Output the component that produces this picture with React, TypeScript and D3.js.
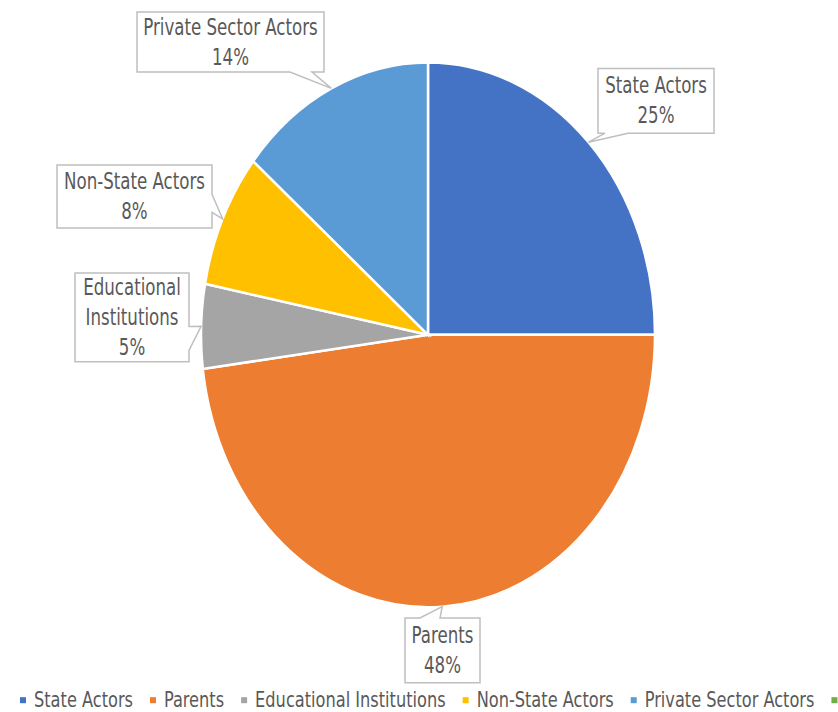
import React, { useRef, useEffect } from "react";
import * as d3 from "d3";

// slices, clockwise from 12 o'clock
const categories = [
  "State Actors",
  "Parents",
  "Educational Institutions",
  "Non-State Actors",
  "Private Sector Actors",
  "Others",
];
const shares = [25, 48, 5, 8, 14, 0];
const labelLines = [
  ["State Actors", "25%"],
  ["Parents", "48%"],
  ["Educational", "Institutions", "5%"],
  ["Non-State Actors", "8%"],
  ["Private Sector Actors", "14%"],
  [],
];
const colors = ["#4472C4", "#ED7D31", "#A5A5A5", "#FFC000", "#5B9BD5", "#70AD47"];

// callout boxes (unstretched coords): box centre, size, side the pointer leaves from, pointer base
const callouts = [
  { cx: 656, cy: 84, w: 116, h: 54, side: "bottom", b0: 605, b1: 628 },
  { cx: 442.5, cy: 542, w: 75, h: 54, side: "top", b0: 420, b1: 440 },
  { cx: 132, cy: 264.5, w: 114, h: 74, side: "right", b0: 272, b1: 292 },
  { cx: 134.5, cy: 163.7, w: 155, h: 52.5, side: "right", b0: 162, b1: 177 },
  { cx: 230.5, cy: 35, w: 187, h: 50, side: "bottom", b0: 290, b1: 312 },
];

const W = 838;
const H = 712;
const SY = 1.2; // the original picture is stretched vertically
const FONT = "'Liberation Sans Narrow', 'DejaVu Sans Condensed', 'Noto Sans', sans-serif";

function calloutPath(c: any, tx: number, ty: number) {
  const x0 = c.cx - c.w / 2, x1 = c.cx + c.w / 2;
  const y0 = c.cy - c.h / 2, y1 = c.cy + c.h / 2;
  const p = d3.path();
  p.moveTo(x0, y0);
  if (c.side === "top") { p.lineTo(c.b0, y0); p.lineTo(tx, ty); p.lineTo(c.b1, y0); }
  p.lineTo(x1, y0);
  if (c.side === "right") { p.lineTo(x1, c.b0); p.lineTo(tx, ty); p.lineTo(x1, c.b1); }
  p.lineTo(x1, y1);
  if (c.side === "bottom") { p.lineTo(c.b1, y1); p.lineTo(tx, ty); p.lineTo(c.b0, y1); }
  p.lineTo(x0, y1);
  if (c.side === "left") { p.lineTo(x0, c.b1); p.lineTo(tx, ty); p.lineTo(x0, c.b0); }
  p.closePath();
  return p.toString();
}

export default function App() {
  const svgRef = useRef<SVGSVGElement>(null);

  useEffect(() => {
    if (!svgRef.current) return;
    document.body.style.margin = "0";
    const svg = d3.select(svgRef.current);
    svg.selectAll("*").remove();

    const root = svg.append("g").attr("transform", `scale(1,${SY})`);

    const cx = 428;
    const cy = 279;
    const R = 227;

    const data = categories.map((name, i) => ({ name, value: shares[i], color: colors[i], i }));
    const pie = d3.pie<any>().value((d) => d.value).sort(null);
    const arc = d3.arc<any>().innerRadius(0).outerRadius(R);
    const arcs = pie(data);

    const g = root.append("g").attr("transform", `translate(${cx},${cy})`);
    g.selectAll("path")
      .data(arcs.filter((d) => d.data.value > 0))
      .join("path")
      .attr("d", arc)
      .attr("fill", (d) => d.data.color)
      .attr("stroke", "#fff")
      .attr("stroke-width", 2.5)
      .attr("vector-effect", "non-scaling-stroke");

    // callout labels
    callouts.forEach((c, i) => {
      const a = arcs[i];
      const mid = (a.startAngle + a.endAngle) / 2;
      const tx = cx + R * Math.sin(mid);
      const ty = cy - R * Math.cos(mid);
      const lg = root.append("g");
      lg.append("path")
        .attr("d", calloutPath(c, tx, ty))
        .attr("fill", "#fff")
        .attr("stroke", "#BFBFBF")
        .attr("stroke-width", 1.5)
        .attr("vector-effect", "non-scaling-stroke");
      const lines = labelLines[i];
      const lh = 25;
      lines.forEach((t, k) => {
        lg.append("text")
          .attr("x", c.cx)
          .attr("y", c.cy + (k - (lines.length - 1) / 2) * lh)
          .attr("text-anchor", "middle")
          .attr("dominant-baseline", "central")
          .attr("font-family", FONT)
          .attr("font-size", 18.5)
          .attr("fill", "#595959")
          .text(t);
      });
    });

    // legend
    const leg = root.append("g");
    const ly = 583.5;
    let x = 20;
    categories.forEach((name, i) => {
      leg.append("rect")
        .attr("x", x)
        .attr("y", ly - 2.5)
        .attr("width", 6)
        .attr("height", 5)
        .attr("fill", colors[i]);
      const t = leg.append("text")
        .attr("x", x + 14)
        .attr("y", ly)
        .attr("dominant-baseline", "central")
        .attr("font-family", FONT)
        .attr("font-size", 18)
        .attr("fill", "#595959")
        .text(i === categories.length - 1 ? "" : name);
      const tw = (t.node() as SVGTextElement).getComputedTextLength();
      x += 14 + tw + 17;
    });
  }, []);

  return (
    <div style={{ position: "absolute", left: 0, top: 0 }}>
      <svg ref={svgRef} width={W} height={H} style={{ display: "block", background: "#fff" }} />
    </div>
  );
}
